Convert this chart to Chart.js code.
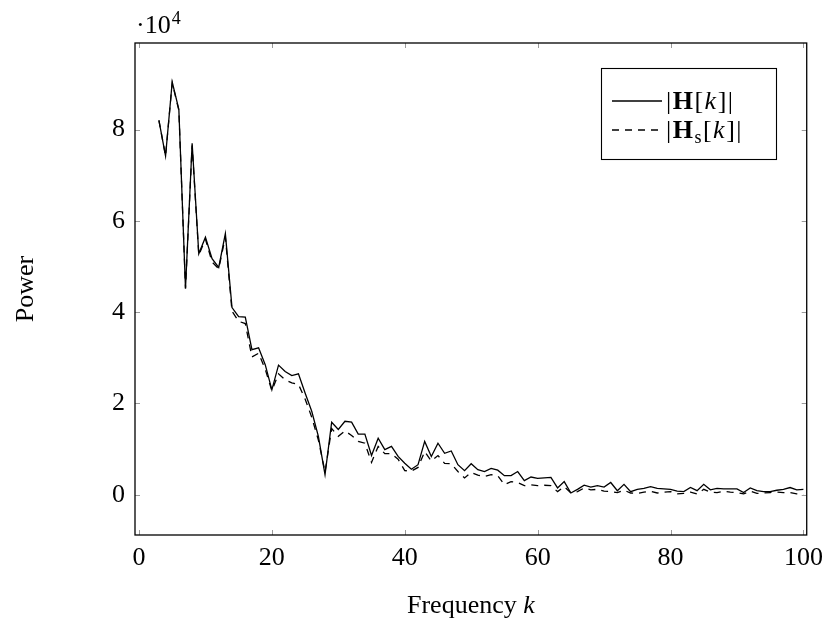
<!DOCTYPE html>
<html>
<head>
<meta charset="utf-8">
<script src="https://cdn.jsdelivr.net/npm/chart.js@4.4.1/dist/chart.umd.min.js"></script>
<style>
  html, body { margin: 0; padding: 0; background: #fff; }
  canvas { display: block; }
</style>
</head>
<body>
<canvas id="powerChart" width="831" height="624"></canvas>
<script>
// frequency bins k
const freqK = [];
for (let k = 3; k <= 100; k++) freqK.push(k);

// |H[k]| power, units of 1e4
const powerH = [
  8.20, 7.42, 9.04, 8.44, 4.52, 7.70, 5.28, 5.64, 5.17, 4.98,
  5.72, 4.10, 3.90, 3.89, 3.18, 3.22, 2.85, 2.30, 2.84, 2.70,
  2.61, 2.65, 2.23, 1.83, 1.28, 0.44, 1.59, 1.43, 1.61, 1.59,
  1.33, 1.33, 0.86, 1.24, 0.99, 1.06, 0.84, 0.69, 0.56, 0.66,
  1.17, 0.84, 1.13, 0.91, 0.96, 0.66, 0.53, 0.68, 0.55, 0.51,
  0.58, 0.54, 0.42, 0.42, 0.51, 0.31, 0.39, 0.36, 0.37, 0.38,
  0.15, 0.29, 0.04, 0.12, 0.21, 0.17, 0.20, 0.17, 0.27, 0.09,
  0.23, 0.07, 0.12, 0.14, 0.18, 0.14, 0.13, 0.12, 0.08, 0.07,
  0.16, 0.09, 0.23, 0.11, 0.14, 0.13, 0.13, 0.13, 0.05, 0.15,
  0.09, 0.07, 0.07, 0.10, 0.12, 0.16, 0.11, 0.12
];

// |Hs[k]| power, units of 1e4
const powerHs = [
  8.20, 7.42, 9.02, 8.42, 4.52, 7.65, 5.25, 5.60, 5.10, 4.95,
  5.65, 4.02, 3.80, 3.75, 3.02, 3.10, 2.75, 2.28, 2.65, 2.52,
  2.45, 2.42, 2.10, 1.70, 1.20, 0.50, 1.45, 1.28, 1.40, 1.30,
  1.17, 1.13, 0.71, 1.06, 0.90, 0.90, 0.78, 0.53, 0.52, 0.60,
  0.95, 0.74, 0.86, 0.69, 0.68, 0.51, 0.37, 0.49, 0.43, 0.40,
  0.44, 0.42, 0.22, 0.29, 0.27, 0.20, 0.22, 0.20, 0.21, 0.20,
  0.07, 0.18, 0.04, 0.07, 0.15, 0.11, 0.12, 0.08, 0.07, 0.05,
  0.10, 0.04, 0.03, 0.06, 0.08, 0.04, 0.06, 0.07, 0.02, 0.03,
  0.06, 0.02, 0.12, 0.06, 0.05, 0.08, 0.06, 0.05, 0.02, 0.08,
  0.03, 0.04, 0.05, 0.06, 0.05, 0.05, 0.02, 0.01
];

const xTicks = [0, 20, 40, 60, 80, 100];
const yTicks = [0, 2, 4, 6, 8];
const yScaleExp = 1e4;

const serif = '"Liberation Serif", "DejaVu Serif", serif';
const fs = 26;

const toPoints = (vals) => vals.map((v, i) => ({ x: freqK[i], y: v * yScaleExp }));

// frame, inward ticks, axis labels and legend, pgfplots style
const decorations = {
  id: 'decorations',
  afterDraw(chart) {
    const { ctx, chartArea: a, scales } = chart;
    ctx.save();

    // tick marks on all four sides
    ctx.strokeStyle = '#9a9a9a';
    ctx.lineWidth = 1;
    const tl = 5;
    ctx.beginPath();
    xTicks.forEach(v => {
      const px = Math.round(scales.x.getPixelForValue(v)) + 0.5;
      ctx.moveTo(px, a.bottom); ctx.lineTo(px, a.bottom - tl);
      ctx.moveTo(px, a.top); ctx.lineTo(px, a.top + tl);
    });
    yTicks.forEach(v => {
      const py = Math.round(scales.y.getPixelForValue(v * yScaleExp)) + 0.5;
      ctx.moveTo(a.left, py); ctx.lineTo(a.left + tl, py);
      ctx.moveTo(a.right, py); ctx.lineTo(a.right - tl, py);
    });
    ctx.stroke();

    // frame
    ctx.strokeStyle = '#000';
    ctx.lineWidth = 1.3;
    ctx.strokeRect(a.left, a.top, a.right - a.left, a.bottom - a.top);

    ctx.fillStyle = '#000';
    ctx.textBaseline = 'alphabetic';

    // exponent label
    ctx.font = fs + 'px ' + serif;
    ctx.textAlign = 'left';
    ctx.fillText('\u00b710', 136, 33);
    const w10 = ctx.measureText('\u00b710').width;
    ctx.font = '18px ' + serif;
    ctx.fillText('4', 136 + w10 + 1, 24);

    // y title
    ctx.save();
    ctx.translate(33, (a.top + a.bottom) / 2);
    ctx.rotate(-Math.PI / 2);
    ctx.font = fs + 'px ' + serif;
    ctx.textAlign = 'center';
    ctx.fillText('Power', 0, 0);
    ctx.restore();

    // x title: "Frequency k"
    ctx.font = fs + 'px ' + serif;
    const t1 = 'Frequency ';
    const w1 = ctx.measureText(t1).width;
    ctx.font = 'italic ' + fs + 'px ' + serif;
    const w2 = ctx.measureText('k').width;
    const sx = (a.left + a.right) / 2 - (w1 + w2) / 2;
    ctx.textAlign = 'left';
    ctx.font = fs + 'px ' + serif;
    ctx.fillText(t1, sx, 613);
    ctx.font = 'italic ' + fs + 'px ' + serif;
    ctx.fillText('k', sx + w1, 613);

    // legend box
    const bx = 601, by = 68, bw = 175, bh = 91;
    ctx.fillStyle = '#fff';
    ctx.fillRect(bx, by, bw, bh);
    ctx.strokeStyle = '#000';
    ctx.lineWidth = 1.1;
    ctx.strokeRect(bx + 0.5, by + 0.5, bw, bh);

    const rows = [
      { y: 101, dash: [], sub: null },
      { y: 130, dash: [7, 6], sub: 's' }
    ];
    rows.forEach(r => {
      ctx.strokeStyle = '#000';
      ctx.lineWidth = 1.3;
      ctx.setLineDash(r.dash);
      ctx.beginPath();
      ctx.moveTo(612, r.y);
      ctx.lineTo(662, r.y);
      ctx.stroke();
      ctx.setLineDash([]);

      ctx.fillStyle = '#000';
      const base = r.y + 8;
      let x = 666;
      const put = (txt, font, dy) => {
        ctx.font = font;
        ctx.fillText(txt, x, base + (dy || 0));
        x += ctx.measureText(txt).width + 1.5;
      };
      put('|', fs + 'px ' + serif);
      put('H', 'bold ' + fs + 'px ' + serif);
      if (r.sub) put(r.sub, '18px ' + serif, 5);
      put('[', fs + 'px ' + serif);
      put('k', 'italic ' + fs + 'px ' + serif);
      put(']', fs + 'px ' + serif);
      put('|', fs + 'px ' + serif);
    });

    ctx.restore();
  }
};

new Chart(document.getElementById('powerChart'), {
  type: 'line',
  data: {
    datasets: [
      {
        label: '|H[k]|',
        data: toPoints(powerH),
        borderColor: '#000',
        borderWidth: 1.3,
        pointRadius: 0,
        tension: 0,
        fill: false
      },
      {
        label: '|Hs[k]|',
        data: toPoints(powerHs),
        borderColor: '#000',
        borderWidth: 1.3,
        borderDash: [7, 6],
        pointRadius: 0,
        tension: 0,
        fill: false
      }
    ]
  },
  options: {
    responsive: false,
    animation: false,
    devicePixelRatio: 1,
    layout: {
      padding: { top: 43, right: 21, left: 0, bottom: 0 }
    },
    plugins: {
      legend: { display: false },
      tooltip: { enabled: false }
    },
    scales: {
      x: {
        type: 'linear',
        min: -0.6,
        max: 100.5,
        grid: { display: false, drawTicks: false, tickLength: 0 },
        border: { display: false },
        afterBuildTicks: s => { s.ticks = xTicks.map(v => ({ value: v })); },
        afterFit: s => { s.height = 89; },
        ticks: {
          color: '#000',
          padding: 8,
          maxRotation: 0,
          font: { family: serif, size: fs }
        }
      },
      y: {
        min: -0.88 * yScaleExp,
        max: 9.895 * yScaleExp,
        grid: { display: false, drawTicks: false, tickLength: 0 },
        border: { display: false },
        afterBuildTicks: s => { s.ticks = yTicks.map(v => ({ value: v * yScaleExp })); },
        afterFit: s => { s.width = 135; },
        ticks: {
          color: '#000',
          padding: 10,
          font: { family: serif, size: fs },
          callback: v => String(v / yScaleExp)
        }
      }
    }
  },
  plugins: [decorations]
});
</script>
</body>
</html>
